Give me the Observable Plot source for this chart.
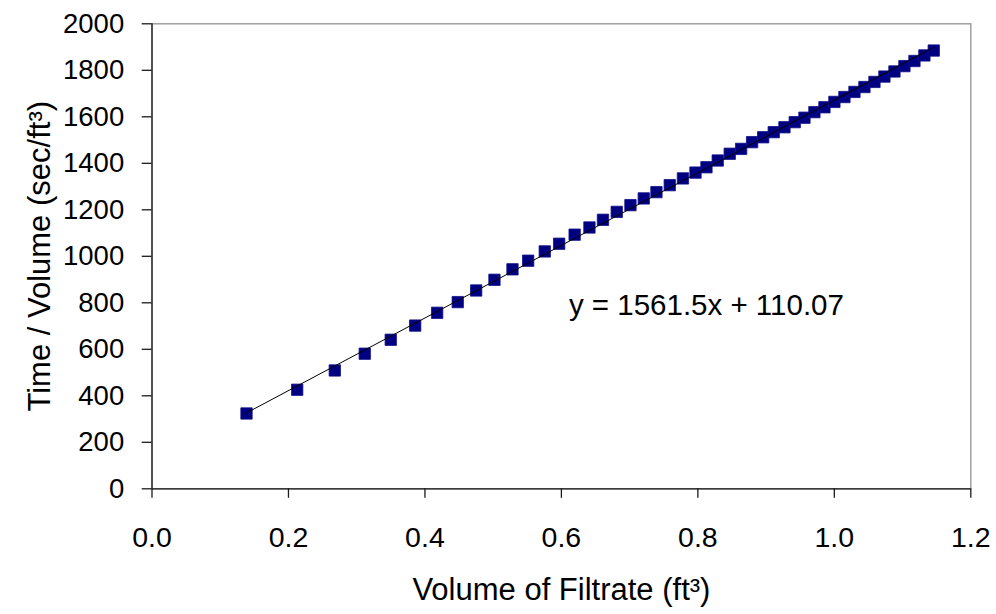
<!DOCTYPE html>
<html>
<head>
<meta charset="utf-8">
<script src="https://cdn.jsdelivr.net/npm/d3@7"></script>
<script src="https://cdn.jsdelivr.net/npm/@observablehq/plot@0.6"></script>
<style>
  html, body { margin: 0; padding: 0; background: #ffffff; }
  #chart { width: 996px; height: 614px; }
</style>
</head>
<body>
<div id="chart"></div>
<script>
// Volume of filtrate (ft^3)
const volume = [
  0.1385, 0.2128, 0.2679, 0.3118, 0.3499, 0.3857, 0.4179, 0.4481, 0.4751, 0.5019,
  0.5283, 0.5513, 0.5756, 0.5967, 0.6194, 0.6411, 0.6609, 0.6811, 0.7012, 0.7207,
  0.7393, 0.7588, 0.7781, 0.7965, 0.8126, 0.8291, 0.8467, 0.8634, 0.8795, 0.8957,
  0.9112, 0.9269, 0.9420, 0.9562, 0.9708, 0.9855, 1.0001, 1.0148, 1.0295, 1.0441,
  1.0588, 1.0734, 1.0881, 1.1027, 1.1174, 1.1320, 1.1457
];
// Time / Volume (sec/ft^3)
const timePerVolume = [
  324, 426, 509, 581, 641, 702, 757, 803, 853, 899,
  944, 981, 1021, 1054, 1093, 1124, 1157, 1191, 1220, 1249,
  1276, 1306, 1335, 1360, 1383, 1412, 1441, 1462, 1491, 1512,
  1534, 1555, 1577, 1596, 1620, 1641, 1664, 1685, 1707, 1728,
  1750, 1773, 1795, 1818, 1840, 1864, 1885
];
// Trendline stated on the chart
const slope = 1561.5;
const intercept = 110.07;
const equationText = "y = 1561.5x + 110.07";
const equationPos = {x: 0.611, y: 788};

const xTicks = [0, 0.2, 0.4, 0.6, 0.8, 1.0, 1.2];
const yTicks = [0, 200, 400, 600, 800, 1000, 1200, 1400, 1600, 1800, 2000];
const xTitle = "Volume of Filtrate (ft³)";
const yTitle = "Time / Volume (sec/ft³)";

const data = volume.map((v, i) => ({x: v, y: timePerVolume[i]}));
const trendX = [volume[0], volume[volume.length - 1]];
const trend = trendX.map(x => ({x, y: slope * x + intercept}));

const font = "'Liberation Sans', Arial, Helvetica, sans-serif";

const chart = Plot.plot({
  width: 996,
  height: 614,
  marginLeft: 151.5,
  marginRight: 25.7,
  marginTop: 23.3,
  marginBottom: 125.7,
  style: {fontFamily: font, fontSize: "27px", background: "#ffffff", color: "#000000", overflow: "visible"},
  x: {domain: [0, 1.2]},
  y: {domain: [0, 2000]},
  marks: [
    Plot.frame({stroke: "#a0a0a0", strokeWidth: 1.5}),
    Plot.ruleX([0], {stroke: "#1a1a1a", strokeWidth: 1.3}),
    Plot.ruleY([0], {stroke: "#1a1a1a", strokeWidth: 1.3}),
    Plot.axisX({
      ticks: xTicks, tickFormat: d3.format(".1f"), tickSize: 9.5, tickPadding: 28.5,
      label: null, stroke: "#1a1a1a", strokeWidth: 1.3
    }),
    Plot.axisY({
      ticks: yTicks, tickFormat: d3.format("d"), tickSize: 9.8, tickPadding: 18,
      label: null, stroke: "#1a1a1a", strokeWidth: 1.3
    }),
    Plot.dot(data, {
      x: "x", y: "y", symbol: "square", r: 6.4,
      fill: "#000080", stroke: "#10108a", strokeWidth: 0.8
    }),
    Plot.line(trend, {x: "x", y: "y", stroke: "#000000", strokeWidth: 1}),
    Plot.text([equationText], {
      x: () => equationPos.x, y: () => equationPos.y, text: d => d,
      textAnchor: "start", fontSize: 29.5, fill: "#000000"
    }),
    Plot.text([xTitle], {
      frameAnchor: "bottom", dy: 101, text: d => d, fontSize: 31, fill: "#000000",
      textAnchor: "middle", lineAnchor: "middle"
    }),
    Plot.text([yTitle], {
      frameAnchor: "left", dx: -112, rotate: -90, text: d => d, fontSize: 31, fill: "#000000",
      textAnchor: "middle", lineAnchor: "middle"
    })
  ]
});
d3.select(chart).selectAll('g[aria-label="x-axis tick label"]').attr("font-size", 28.5);
d3.select(chart).selectAll('g[aria-label="y-axis tick label"]').attr("font-size", 27.5);
document.getElementById("chart").appendChild(chart);
</script>
</body>
</html>
